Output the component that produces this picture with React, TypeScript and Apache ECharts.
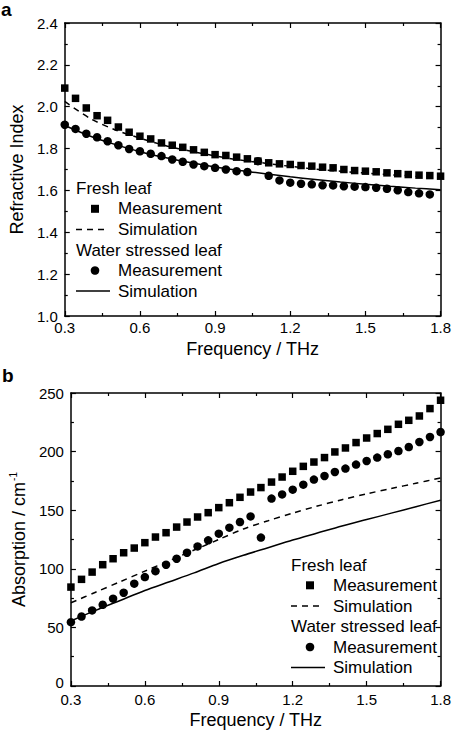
import React, { useEffect, useRef } from "react";
import * as echarts from "echarts";

const FONT = "'Liberation Sans', Arial, sans-serif";

// Measurement frequencies (THz)
const freq = [
  0.3, 0.343, 0.386, 0.429, 0.471, 0.514, 0.557, 0.6, 0.643, 0.686, 0.729, 0.771,
  0.814, 0.857, 0.9, 0.943, 0.986, 1.029, 1.071, 1.114, 1.157, 1.2, 1.243, 1.286,
  1.329, 1.371, 1.414, 1.457, 1.5, 1.543, 1.586, 1.629, 1.671, 1.714, 1.757, 1.8,
];
// Simulation frequencies (THz)
const simFreq = [0.3, 0.4, 0.5, 0.6, 0.7, 0.8, 0.9, 1.0, 1.1, 1.2, 1.3, 1.4, 1.5, 1.6, 1.7, 1.8];

// Panel a: refractive index
const riFreshMeas = [
  2.089, 2.04, 1.994, 1.957, 1.935, 1.903, 1.878, 1.859, 1.846, 1.827, 1.816, 1.806,
  1.794, 1.782, 1.771, 1.767, 1.759, 1.751, 1.74, 1.732, 1.727, 1.724, 1.719, 1.716,
  1.711, 1.708, 1.7, 1.695, 1.692, 1.689, 1.684, 1.68, 1.676, 1.673, 1.671, 1.668,
];
const riWaterMeas = [
  1.914, 1.894, 1.871, 1.854, 1.835, 1.816, 1.798, 1.787, 1.775, 1.764, 1.748, 1.737,
  1.724, 1.716, 1.708, 1.7, 1.692, 1.688, 1.74, 1.67, 1.648, 1.637, 1.632, 1.629,
  1.625, 1.624, 1.62, 1.618, 1.616, 1.613, 1.608, 1.601, 1.592, 1.586, 1.581,
];
const riFreshSim = [2.025, 1.945, 1.89, 1.85, 1.815, 1.788, 1.765, 1.745, 1.73, 1.715, 1.702, 1.692, 1.683, 1.675, 1.668, 1.662];
const riWaterSim = [1.91, 1.86, 1.82, 1.785, 1.757, 1.733, 1.712, 1.695, 1.68, 1.665, 1.652, 1.64, 1.63, 1.62, 1.611, 1.603];

// Panel b: absorption (cm^-1)
const abFreshMeas = [
  84.4, 91, 97.2, 103.5, 108.6, 113.7, 117.7, 122.3, 127.1, 130.8, 135.6, 139.9,
  144.2, 147.9, 152.2, 156.4, 161, 165.5, 169.3, 174, 178.3, 183.2, 187.4, 191.1,
  194.9, 199.7, 203.1, 207.7, 211.6, 215.4, 219, 223.3, 226.7, 230.4, 236.7, 243.8,
];
const abWaterMeas = [
  54.5, 59.3, 64.5, 69.3, 74.5, 79.6, 87.3, 92.9, 98, 103.5, 108.6, 113.7,
  119.1, 124.3, 130, 135.1, 139.9, 144.7, 126.6, 159.9, 163.5, 167.5, 171.8, 176.1,
  179.2, 182.6, 185.5, 188.9, 192, 194.9, 197.7, 200.5, 203.9, 208.2, 212.5, 216.7,
];
const abFreshSim = [71, 80, 89, 98, 107, 116, 125, 134, 141, 147.5, 153.5, 159, 164, 168.5, 173, 177.5];
const abWaterSim = [55.5, 64.5, 73, 81.5, 89, 96.5, 104.5, 111.5, 118, 124.5, 130.5, 136.5, 142, 147.5, 153, 158.5];

const xTicks = { min: 0.3, max: 1.8, interval: 0.3 };
const riTicks = { min: 1.0, max: 2.4, interval: 0.2 };
const abTicks = { min: 0, max: 250, interval: 50 };

const pairs = (xs: number[], ys: number[]) => ys.map((y, i) => [xs[i], y]);

function axisBase(showLabel: boolean) {
  return {
    type: "value" as const,
    axisLine: { show: true, onZero: false, lineStyle: { color: "#000", width: 1.5 } },
    axisTick: { show: true, inside: true, length: 5, lineStyle: { color: "#000", width: 1.2 } },
    minorTick: { show: true, splitNumber: 2, length: 3, lineStyle: { color: "#000", width: 1.2 } },
    splitLine: { show: false },
    minorSplitLine: { show: false },
    axisLabel: {
      show: showLabel,
      color: "#000",
      fontSize: 15,
      fontFamily: FONT,
    },
  };
}

function legend(x0: number, y0: number) {
  const t = (text: string, x: number, y: number) => ({
    type: "text",
    x,
    y,
    style: { text, fontSize: 17, fontFamily: FONT, fill: "#000", align: "left", verticalAlign: "middle" },
  });
  const iconX = x0 + 19;
  const textX = x0 + 42;
  return [
    t("Fresh leaf", x0, y0),
    { type: "rect", shape: { x: iconX - 4, y: y0 + 20.3 - 4, width: 8, height: 8 }, style: { fill: "#000" } },
    t("Measurement", textX, y0 + 20.3),
    {
      type: "line",
      shape: { x1: x0, y1: y0 + 41, x2: x0 + 32, y2: y0 + 41 },
      style: { stroke: "#000", lineWidth: 1.5, lineDash: [6, 5] },
    },
    t("Simulation", textX, y0 + 41),
    t("Water stressed leaf", x0, y0 + 61.5),
    { type: "circle", shape: { cx: iconX, cy: y0 + 82, r: 4.3 }, style: { fill: "#000" } },
    t("Measurement", textX, y0 + 82),
    {
      type: "line",
      shape: { x1: x0, y1: y0 + 102.5, x2: x0 + 34, y2: y0 + 102.5 },
      style: { stroke: "#000", lineWidth: 1.5 },
    },
    t("Simulation", textX, y0 + 102.5),
  ];
}

export default function App() {
  const ref = useRef<HTMLDivElement>(null);
  useEffect(() => {
    if (!ref.current) return;
    const chart = echarts.init(ref.current, undefined, { renderer: "svg" });
    const fmt1 = (v: number) => v.toFixed(1);
    const fmt0 = (v: number) => (v === 0 ? "{z|0}" : String(Math.round(v)));
    const markerStyle = { color: "#000", opacity: 1 };

    chart.setOption({
      animation: false,
      backgroundColor: "#fff",
      textStyle: { fontFamily: FONT },
      grid: [
        { left: 60, top: 23, width: 383, height: 293 },
        { left: 60, top: 393, width: 383, height: 293 },
      ],
      xAxis: [
        {
          ...axisBase(true),
          gridIndex: 0,
          position: "bottom",
          ...xTicks,
          axisLabel: { ...axisBase(true).axisLabel, margin: 4, formatter: fmt1 },
          name: "Frequency / THz",
          nameLocation: "middle",
          nameGap: 24,
          nameTextStyle: { fontSize: 18, color: "#000", fontFamily: FONT },
        },
        { ...axisBase(false), gridIndex: 0, position: "top", ...xTicks },
        {
          ...axisBase(true),
          gridIndex: 1,
          position: "bottom",
          ...xTicks,
          axisLabel: { ...axisBase(true).axisLabel, margin: 6, formatter: fmt1 },
          name: "Frequency / THz",
          nameLocation: "middle",
          nameGap: 25,
          nameTextStyle: { fontSize: 18, color: "#000", fontFamily: FONT },
        },
        { ...axisBase(false), gridIndex: 1, position: "top", ...xTicks },
      ],
      yAxis: [
        {
          ...axisBase(true),
          gridIndex: 0,
          position: "left",
          ...riTicks,
          axisLabel: { ...axisBase(true).axisLabel, margin: 7, formatter: fmt1 },
          name: "Refractive Index",
          nameLocation: "middle",
          nameRotate: 90,
          nameGap: 38,
          nameTextStyle: { fontSize: 18, color: "#000", fontFamily: FONT },
        },
        { ...axisBase(false), gridIndex: 0, position: "right", ...riTicks },
        {
          ...axisBase(true),
          gridIndex: 1,
          position: "left",
          ...abTicks,
          axisLabel: {
            ...axisBase(true).axisLabel,
            margin: 7,
            formatter: fmt0,
            rich: { z: { fontSize: 15, fontFamily: FONT, color: "#000", padding: [0, 0, 7, 0] } },
          },
          name: "{a|Absorption / cm}{s|-1}",
          nameLocation: "middle",
          nameRotate: 90,
          nameGap: 38,
          nameTextStyle: {
            fontSize: 18,
            color: "#000",
            fontFamily: FONT,
            rich: {
              a: { fontSize: 18, fontFamily: FONT, color: "#000", lineHeight: 22 },
              s: { fontSize: 10, fontFamily: FONT, color: "#000", verticalAlign: "top", lineHeight: 22, padding: [0, 0, 10, 1] },
            },
          },
        },
        { ...axisBase(false), gridIndex: 1, position: "right", ...abTicks },
      ],
      series: [
        {
          type: "line",
          xAxisIndex: 0,
          yAxisIndex: 0,
          data: pairs(simFreq, riFreshSim),
          smooth: 0.3,
          symbol: "none",
          lineStyle: { color: "#000", width: 1.5, type: [6, 5] },
          z: 1,
        },
        {
          type: "line",
          xAxisIndex: 0,
          yAxisIndex: 0,
          data: pairs(simFreq, riWaterSim),
          smooth: 0.3,
          symbol: "none",
          lineStyle: { color: "#000", width: 1.5 },
          z: 1,
        },
        {
          type: "scatter",
          xAxisIndex: 0,
          yAxisIndex: 0,
          data: pairs(freq, riFreshMeas),
          symbol: "rect",
          symbolSize: 7.5,
          itemStyle: markerStyle,
          z: 2,
        },
        {
          type: "scatter",
          xAxisIndex: 0,
          yAxisIndex: 0,
          data: pairs(freq, riWaterMeas),
          symbol: "circle",
          symbolSize: 8.5,
          itemStyle: markerStyle,
          z: 2,
        },
        {
          type: "line",
          xAxisIndex: 2,
          yAxisIndex: 2,
          data: pairs(simFreq, abFreshSim),
          smooth: 0.3,
          symbol: "none",
          lineStyle: { color: "#000", width: 1.5, type: [6, 5] },
          z: 1,
        },
        {
          type: "line",
          xAxisIndex: 2,
          yAxisIndex: 2,
          data: pairs(simFreq, abWaterSim),
          smooth: 0.3,
          symbol: "none",
          lineStyle: { color: "#000", width: 1.5 },
          z: 1,
        },
        {
          type: "scatter",
          xAxisIndex: 2,
          yAxisIndex: 2,
          data: pairs(freq, abFreshMeas),
          symbol: "rect",
          symbolSize: 7.5,
          itemStyle: markerStyle,
          z: 2,
        },
        {
          type: "scatter",
          xAxisIndex: 2,
          yAxisIndex: 2,
          data: pairs(freq, abWaterMeas),
          symbol: "circle",
          symbolSize: 8.5,
          itemStyle: markerStyle,
          z: 2,
        },
      ],
      graphic: [
        {
          type: "text",
          x: 1,
          y: 0,
          style: { text: "a", fontSize: 19, fontWeight: "bold", fontFamily: FONT, fill: "#000" },
        },
        {
          type: "text",
          x: 2,
          y: 366,
          style: { text: "b", fontSize: 19, fontWeight: "bold", fontFamily: FONT, fill: "#000" },
        },
        ...legend(76, 188.5),
        ...legend(291, 565),
      ],
    });
    return () => chart.dispose();
  }, []);
  return <div ref={ref} style={{ position: "absolute", left: 0, top: 0, width: 454, height: 730 }} />;
}
